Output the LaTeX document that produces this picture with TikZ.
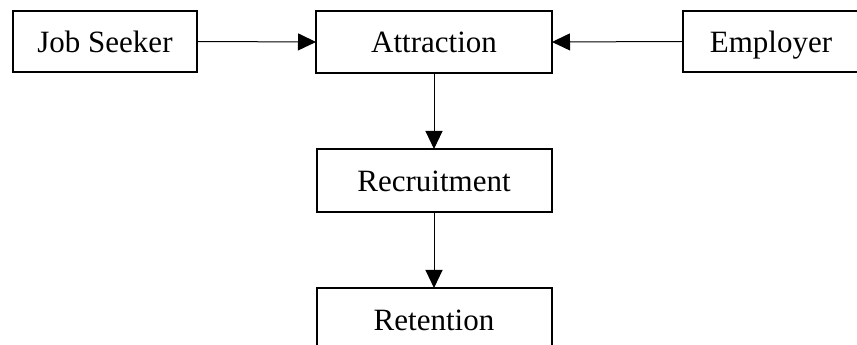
\documentclass[tikz,border=0pt]{standalone}
\usepackage{fontspec}
\setmainfont{Liberation Serif}
\usetikzlibrary{arrows.meta}
\begin{document}
\begin{tikzpicture}[x=1pt,y=1pt,
  box/.style={draw,line width=2pt,inner sep=0pt,outer sep=0pt,text height=25pt,text depth=3pt,font=\fontsize{31}{36}\selectfont},
  conn/.style={line width=1pt,-{Triangle[length=18pt,width=17pt]}}]
\useasboundingbox (0,0) rectangle (857,345);
\clip (0,0) rectangle (857,345);
\node[box,minimum width=184pt,minimum height=61pt] (js) at (105,303.5) {Job Seeker};
\node[box,minimum width=236pt,minimum height=62pt] (at) at (434,303) {Attraction};
\node[box,minimum width=176pt,minimum height=61pt] (em) at (771,303.5) {Employer};
\node[box,minimum width=235pt,minimum height=63pt] (rc) at (434,164.5) {Recruitment};
\node[box,minimum width=235pt,minimum height=63pt] (rt) at (434,25.5) {Retention};
\draw[conn] (js.east) -- (at.west);
\draw[conn] (em.west) -- (at.east);
\draw[conn] (at.south) -- (rc.north);
\draw[conn] (rc.south) -- (rt.north);
\end{tikzpicture}
\end{document}
